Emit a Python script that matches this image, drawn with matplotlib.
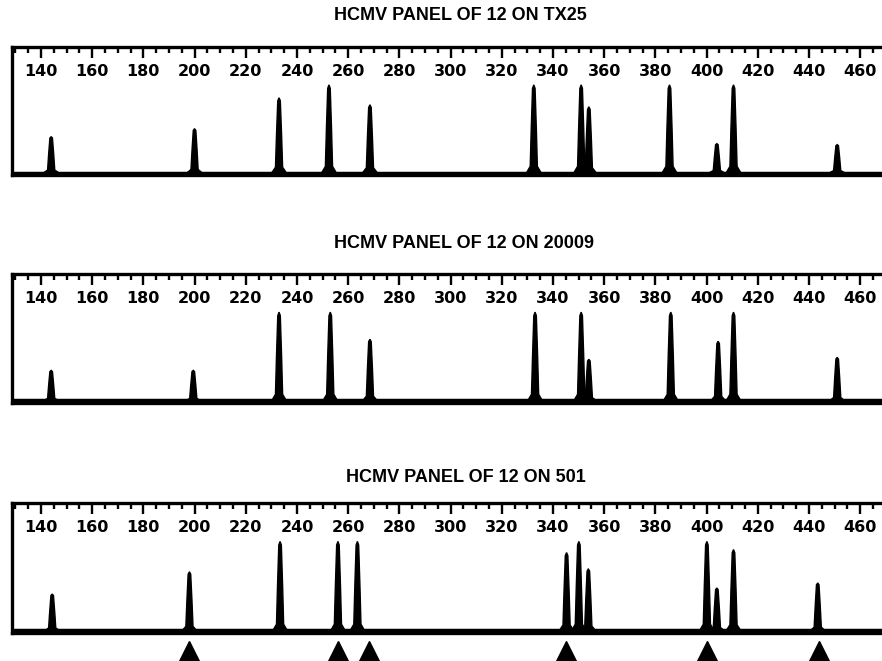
import matplotlib
matplotlib.use("Agg")
import matplotlib.pyplot as plt

# положения пиков (нуклеотиды) и их высоты
titles = ["HCMV PANEL OF 12 ON TX25", "HCMV PANEL OF 12 ON 20009", "HCMV PANEL OF 12 ON 501"]

tx25_pos = [144, 200, 233, 252.5, 268.5, 332.5, 351, 354, 385.5, 404, 410.5, 451]
tx25_h = [36, 44, 75, 88, 68, 88, 88, 66, 88, 29, 88, 28]

s20009_pos = [144, 199.5, 233, 253, 268.5, 333, 351, 354, 386, 404.5, 410.5, 451]
s20009_h = [30, 30, 88, 88, 61, 88, 88, 41, 88, 59, 88, 43]

s501_pos = [144.4, 198, 233.4, 256, 263.6, 345.3, 350.1, 353.8, 400.1, 404, 410.5, 443.4]
s501_h = [36, 58, 88, 88, 88, 77, 88, 61, 88, 42, 80, 47]

arrows = [198, 256, 268, 345, 400, 444]

tick_labels = [140, 160, 180, 200, 220, 240, 260, 280, 300, 320, 340, 360, 380, 400, 420, 440, 460]
minor_ticks = list(range(130, 470, 5))

panels = [(tx25_pos, tx25_h), (s20009_pos, s20009_h), (s501_pos, s501_h)]

W, H = 882, 661
fig = plt.figure(figsize=(8.82, 6.61), dpi=100)

# (верх рамки, низ рамки) в пикселях
boxes = [(47, 175), (274, 403), (503, 633)]
title_xy = [(460, 16), (464, 243), (466, 477)]

# форма одного пика (смещение по x, доля высоты)
dx = [-2.8, -1.4, -1.0, -0.5, 0, 0.5, 1.0, 1.4, 2.8]
fy = [0, 0.07, 0.5, 0.96, 1, 0.96, 0.5, 0.07, 0]

axes = []
for i, (pos, hts) in enumerate(panels):
    top, bot = boxes[i]
    ax = fig.add_axes([12 / W, 1 - bot / H, 870 / W, (bot - top) / H])
    ax.set_xlim(128.7, 468.5)
    ax.set_ylim(-2.5, 126)
    for p, h in zip(pos, hts):
        ax.fill([p + d for d in dx], [h * f for f in fy], color="black", lw=1, ec="black")
    ax.axhline(0, color="black", lw=2.5)

    ax.set_xticks(tick_labels)
    ax.set_xticks(minor_ticks, minor=True)
    ax.set_xticklabels([])
    ax.set_yticks([])
    ax.tick_params(axis="x", which="both", top=True, bottom=False, labelbottom=False,
                   labeltop=False, direction="in", width=1.7, color="black")
    ax.tick_params(axis="x", which="major", length=8)
    ax.tick_params(axis="x", which="minor", length=4.3)
    for t in tick_labels:
        ax.text(t, 0.81, str(t), transform=ax.get_xaxis_transform(), ha="center", va="center",
                fontsize=11.5, fontweight="bold", family="DejaVu Sans")
    ax.spines["right"].set_visible(False)
    for s in ["left", "top", "bottom"]:
        ax.spines[s].set_linewidth(2.4)

    tx, ty = title_xy[i]
    fig.text(tx / W, 1 - ty / H, titles[i], ha="center", va="center", fontsize=13,
             fontweight="bold", family="Liberation Sans")
    axes.append(ax)

# треугольники под нижней панелью
ax3 = axes[2]
ax3.plot(arrows, [-0.16] * len(arrows), ls="none", marker="^", ms=19, color="black",
         transform=ax3.get_xaxis_transform(), clip_on=False)

fig.savefig("out.png", dpi=100)
